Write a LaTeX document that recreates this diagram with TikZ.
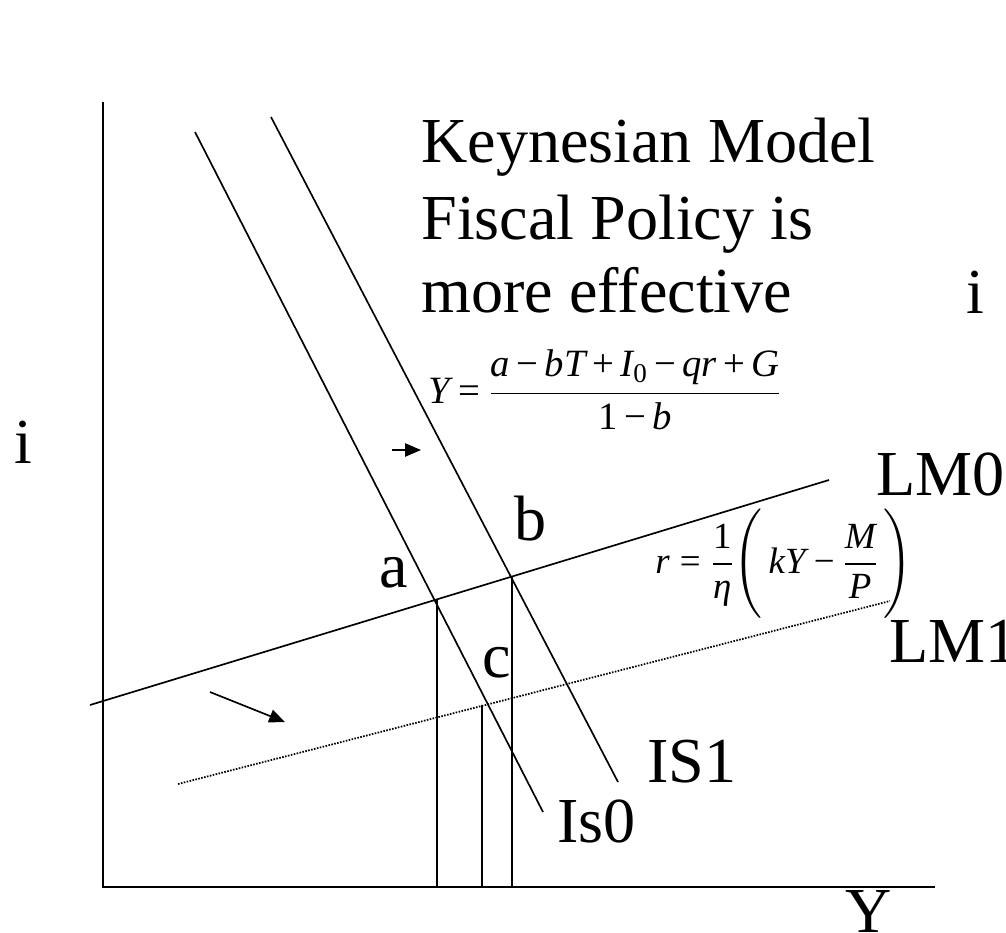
\documentclass[tikz,border=0pt]{standalone}
\usepackage{fix-cm}
\usepackage{amsmath}
\usepackage{fontspec}
\setmainfont{Liberation Serif}
\usetikzlibrary{arrows.meta}
\newcommand{\mi}[1]{\textit{#1}}
\newcommand{\tmin}{\mathbin{\text{−}}}
\newcommand{\tplus}{\mathbin{\text{+}}}
\newcommand{\teq}{\mathrel{\text{=}}}
\begin{document}
\begin{tikzpicture}[x=0.02cm, y=-0.02cm,
  lbl/.style={inner sep=0pt, anchor=base west, font=\fontsize{36.5}{44}\selectfont},
  eqa/.style={inner sep=0pt, anchor=base west, font=\fontsize{22}{27}\selectfont},
  eqb/.style={inner sep=0pt, anchor=base west, font=\fontsize{21}{25}\selectfont},
  curve/.style={line width=0.95pt},
  axisline/.style={line width=1.6pt},
  dotline/.style={line width=1pt, dash pattern=on 0.9pt off 0.8pt},
  movearrow/.style={line width=0.95pt, -{Triangle[length=9pt,width=7.5pt]}}
  ]
\useasboundingbox (0,0) rectangle (1006,932);

% axes
\coordinate (ytop) at (103,102);
\coordinate (orig) at (103,887);
\coordinate (xend) at (935,887);
\draw[axisline] (ytop) -- (orig) -- (xend);

% curves
\coordinate (is0t) at (195,132);
\coordinate (is0b) at (543,812);
\coordinate (is1t) at (271,117);
\coordinate (is1b) at (618,782);
\coordinate (lm0l) at (90,705);
\coordinate (lm0r) at (829,480);
\coordinate (lm1l) at (178,784);
\coordinate (lm1r) at (890,601);
\draw[curve] (is0t) -- (is0b);
\draw[curve] (is1t) -- (is1b);
\draw[curve] (lm0l) -- (lm0r);
\draw[dotline] (lm1l) -- (lm1r);

% equilibrium drop lines
\coordinate (pa) at (437,600);
\coordinate (pb) at (512,576);
\coordinate (pc) at (482,705);
\coordinate (fa) at (437,887);
\coordinate (fb) at (512,887);
\coordinate (fc) at (482,887);
\draw[curve] (pa) -- (fa);
\draw[curve] (pb) -- (fb);
\draw[curve] (pc) -- (fc);

% shift arrows
\coordinate (s1a) at (392,450);
\coordinate (s1b) at (421,450);
\draw[movearrow] (s1a) -- (s1b);
\coordinate (s2a) at (210,692);
\coordinate (s2b) at (285,722);
\draw[movearrow] (s2a) -- (s2b);

% labels
\node[lbl] (t1) at (421,163) {Keynesian Model};
\node[lbl] (t2) at (421,240) {Fiscal Policy is};
\node[lbl] (t3) at (421,312) {more effective};
\node[lbl] (iL) at (14,463) {i};
\node[lbl] (iR) at (966,313) {i};
\node[lbl] (LM0) at (876,495) {LM0};
\node[lbl] (LM1) at (889,662) {LM1};
\node[lbl] (IS1) at (647,782) {IS1};
\node[lbl] (Is0) at (557,842) {Is0};
\node[lbl] (Yx) at (845,932) {Y};
\node[lbl] (la) at (379,587) {a};
\node[lbl] (lb) at (514,540) {b};
\node[lbl] (lc) at (482,677) {c};

% formulas
\node[eqa] (eqIS) at (428,403) {\medmuskip=3mu\thickmuskip=4mu$\mi{Y} \teq \dfrac{\mi{a} \tmin \mi{bT} \tplus \mi{I}_{\text{0}} \tmin \mi{qr} \tplus \mi{G}}{\text{1} \tmin \mi{b}}$};
\node[eqb] (eqLM) at (655,573) {\medmuskip=4mu\thickmuskip=5mu$\mi{r} \teq \dfrac{\text{1}}{\mi{η}}\Biggl(\,\mi{kY} \tmin \dfrac{\mi{M}}{\mi{P}}\,\Biggr)$};
\end{tikzpicture}
\end{document}
